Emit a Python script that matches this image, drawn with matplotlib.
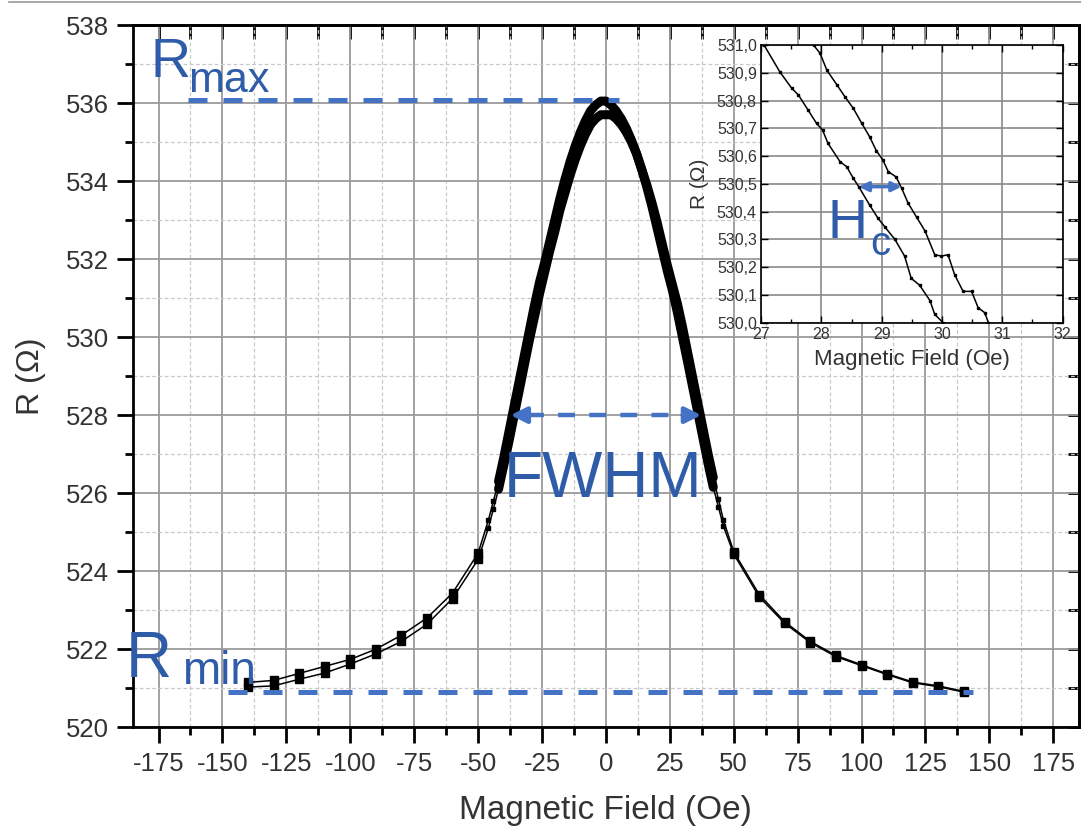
import numpy as np
import matplotlib.pyplot as plt
from matplotlib.ticker import MultipleLocator, FuncFormatter
from matplotlib.lines import Line2D

plt.rcParams['font.family'] = ['Liberation Sans', 'DejaVu Sans']
plt.rcParams['axes.unicode_minus'] = False

# outer points, every 10 Oe
h_left = [-140, -130, -120, -110, -100, -90, -80, -70, -60, -50]
h_right = [50, 60, 70, 80, 90, 100, 110, 120, 130, 140]
r1_left = [521.15, 521.2, 521.38, 521.56, 521.74, 522.0, 522.36, 522.8, 523.44, 524.46]
r2_left = [521.03, 521.06, 521.23, 521.39, 521.62, 521.88, 522.2, 522.64, 523.3, 524.3]
r1_right = [524.44, 523.34, 522.66, 522.17, 521.81, 521.58, 521.35, 521.14, 521.04, 520.9]
r2_right = [524.5, 523.4, 522.7, 522.2, 521.84, 521.6, 521.37, 521.16, 521.06, 520.92]

# dense part around zero field
h_core = [-46, -44, -42, -40, -38, -36, -34, -32, -30, -28, -26, -24, -22, -20, -18, -16,
          -14, -12, -10, -8, -6, -4, -2, 0, 2, 4, 6, 8, 10, 12, 14, 16, 18, 20, 22, 24,
          26, 28, 30, 32, 34, 36, 38, 40, 42, 44, 46]
r1_core = [525.3, 525.8, 526.3, 526.9, 527.55, 528.2, 528.85, 529.5, 530.15, 530.8, 531.4,
           531.9, 532.45, 533.0, 533.55, 534.05, 534.5, 534.9, 535.25, 535.55, 535.8, 535.95,
           536.05, 536.05, 535.95, 535.8, 535.6, 535.35, 535.05, 534.7, 534.3, 533.85, 533.35,
           532.8, 532.25, 531.7, 531.2, 530.62, 529.98, 529.35, 528.7, 528.05, 527.4, 526.75,
           526.15, 525.65, 525.15]
r2_core = [525.1, 525.6, 526.1, 526.7, 527.3, 527.95, 528.6, 529.25, 529.9, 530.5, 531.1,
           531.65, 532.2, 532.7, 533.25, 533.7, 534.15, 534.55, 534.9, 535.2, 535.45, 535.6,
           535.7, 535.7, 535.7, 535.6, 535.45, 535.25, 535.0, 534.7, 534.3, 533.9, 533.45,
           532.95, 532.4, 531.85, 531.35, 530.85, 530.25, 529.6, 528.95, 528.3, 527.65, 527.0,
           526.4, 525.85, 525.3]

# inset (zoom near 30 Oe)
h_in1 = [27.05, 27.31, 27.51, 27.62, 27.78, 27.92, 28.02, 28.11, 28.31, 28.42, 28.53, 28.62,
         28.80, 28.94, 29.05, 29.22, 29.38, 29.49, 29.63, 29.80, 29.88, 30.02]
r_in1 = [531.0, 530.904, 530.844, 530.82, 530.766, 530.718, 530.694, 530.646, 530.58, 530.562,
         530.52, 530.49, 530.424, 530.376, 530.346, 530.30, 530.24, 530.16, 530.135, 530.08,
         530.03, 530.0]
h_in2 = [27.87, 27.98, 28.09, 28.26, 28.39, 28.53, 28.67, 28.80, 28.91, 29.02, 29.11, 29.24,
         29.33, 29.44, 29.58, 29.72, 29.88, 29.99, 30.10, 30.21, 30.35, 30.49, 30.60, 30.71, 30.77]
r_in2 = [531.0, 530.97, 530.91, 530.856, 530.814, 530.772, 530.718, 530.67, 530.62, 530.586,
         530.544, 530.525, 530.485, 530.43, 530.38, 530.33, 530.245, 530.24, 530.245, 530.173,
         530.113, 530.113, 530.054, 530.036, 530.0]

r_max, r_min, r_half = 536.08, 520.9, 528
fwhm_left, fwhm_right = -37.3, 37.3
hc_left, hc_right, hc_r = 28.62, 29.33, 530.49

blue = '#4472C4'
tblue = '#2F5CA8'
grey = '#333333'

fig = plt.figure(figsize=(10.81, 8.34), dpi=100)
ax = fig.add_axes([0.123, 0.128, 0.875, 0.842])

core = np.array(h_core)
thick = np.abs(core) <= 42
for hl, rl, hc, rc, hr, rr in [(h_left, r1_left, h_core, r1_core, h_right, r1_right),
                               (h_left, r2_left, h_core, r2_core, h_right, r2_right)]:
    h = np.concatenate([hl, hc, hr])
    r = np.concatenate([rl, rc, rr])
    ax.plot(h, r, color='black', lw=1.1, zorder=3)
    ax.plot(hl, rl, 's', color='black', ms=6, zorder=3)
    ax.plot(hr, rr, 's', color='black', ms=6, zorder=3)
    ax.plot(core[~thick], np.array(rc)[~thick], 's', color='black', ms=3.5, zorder=3)
    ax.plot(core[thick], np.array(rc)[thick], color='black', lw=6.5, solid_capstyle='round', zorder=3)

ax.set_xlim(-185, 185)
ax.set_ylim(520, 538)
ax.xaxis.set_major_locator(MultipleLocator(25))
ax.xaxis.set_minor_locator(MultipleLocator(12.5))
ax.yaxis.set_major_locator(MultipleLocator(2))
ax.yaxis.set_minor_locator(MultipleLocator(1))
ax.grid(which='major', color='#9a9a9a', lw=1.3)
ax.grid(which='minor', color='#c8c8c8', lw=0.9, ls=(0, (3, 2)))
ax.set_axisbelow(True)
ax.tick_params(which='both', direction='out', width=2, color='black', labelcolor=grey)
ax.tick_params(which='major', length=11.5, labelsize=18.5, pad=6)
ax.tick_params(which='minor', length=6)
for s in ax.spines.values():
    s.set_linewidth(2)

sx = ax.secondary_xaxis('top')
sx.xaxis.set_major_locator(MultipleLocator(12.5))
sx.tick_params(direction='in', length=10, width=2, labeltop=False)
sx.spines['top'].set_linewidth(2)
sy = ax.secondary_yaxis('right')
sy.yaxis.set_major_locator(MultipleLocator(1))
sy.tick_params(direction='in', length=8, width=2, labelright=False)
sy.spines['right'].set_linewidth(2)

ax.set_xlabel('Magnetic Field (Oe)', fontsize=24, color=grey, labelpad=14)
ax.set_ylabel('R (Ω)', fontsize=23, color=grey, labelpad=14)

# annotations
ax.plot([-163.5, 5], [r_max, r_max], color=blue, lw=3.6, dashes=(3.8, 3.2), zorder=5)
ax.plot([-148, 143.5], [r_min, r_min], color=blue, lw=3.6, dashes=(3.8, 3.2), zorder=5)
ax.plot([-31, 31], [r_half, r_half], color=blue, lw=3.2, dashes=(3.8, 3.2), zorder=5)
for tip, tail in [(fwhm_left, -30), (fwhm_right, 30)]:
    ax.annotate('', xy=(tip, r_half), xytext=(tail, r_half), zorder=6,
                arrowprops=dict(arrowstyle='-|>', color=blue, lw=3.2, mutation_scale=24,
                                shrinkA=0, shrinkB=0))
ax.text(-178, 536.67, 'R', fontsize=40, color=tblue, va='baseline', zorder=6)
ax.text(-163.6, 536.28, 'max', fontsize=31, color=tblue, va='baseline', zorder=6)
ax.text(-188, 521.28, 'R', fontsize=46, color=tblue, va='baseline', zorder=6)
ax.text(-166, 521.1, 'min', fontsize=33, color=tblue, va='baseline', zorder=6)
ax.text(-1, 525.9, 'FWHM', fontsize=46, color=tblue, ha='center', va='baseline', zorder=6)

# inset
axin = fig.add_axes([0.704, 0.613, 0.279, 0.333])
axin.set_facecolor('white')
axin.plot(h_in1, r_in1, color='black', lw=1.1, marker='s', ms=2)
axin.plot(h_in2, r_in2, color='black', lw=1.1, marker='s', ms=2)
axin.set_xlim(27, 32)
axin.set_ylim(530.0, 531.0)
axin.xaxis.set_major_locator(MultipleLocator(1))
axin.xaxis.set_minor_locator(MultipleLocator(0.5))
axin.yaxis.set_major_locator(MultipleLocator(0.1))
axin.yaxis.set_major_formatter(FuncFormatter(lambda v, p: f'{v:.1f}'.replace('.', ',')))
axin.grid(which='major', color='#8a8a8a', lw=1.2)
axin.set_axisbelow(True)
axin.tick_params(which='both', direction='in', width=1, color='black', labelcolor=grey,
                 labelsize=11.5, pad=3, top=True, right=True)
axin.tick_params(which='major', length=5)
axin.tick_params(which='minor', length=3)
for s in axin.spines.values():
    s.set_linewidth(1.2)
axin.set_xlabel('Magnetic Field (Oe)', fontsize=16, color=grey, labelpad=5)
axin.set_ylabel('R (Ω)', fontsize=15, color=grey, labelpad=6)
axin.annotate('', xy=(hc_left, hc_r), xytext=(hc_right, hc_r),
              arrowprops=dict(arrowstyle='<|-|>', color=blue, lw=2.5, mutation_scale=14,
                              shrinkA=0, shrinkB=0))
axin.text(28.11, 530.306, 'H', fontsize=40, color=tblue, va='baseline')
axin.text(28.81, 530.245, 'c', fontsize=29, color=tblue, va='baseline')

fig.add_artist(Line2D([0.008, 1.0], [0.9975, 0.9975], color='#999999', lw=1.2))

fig.savefig('out.png', dpi=100)
